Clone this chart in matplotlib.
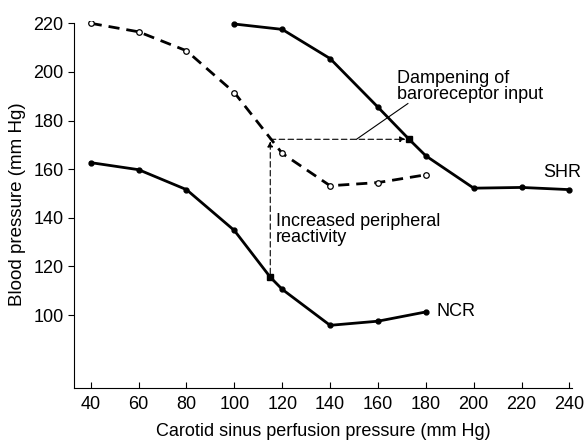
import matplotlib.pyplot as plt

plt.rcParams['font.family'] = ['Liberation Sans', 'DejaVu Sans']

# SHR, before (open circles, dashed)
shr0_x = [40, 60, 80, 100, 120, 140, 160, 180]
shr0_y = [220, 216.5, 208.7, 191.5, 166.5, 153.2, 154.5, 157.7]

# SHR (solid upper curve)
shr_x = [100, 120, 140, 160, 173, 180, 200, 220, 240]
shr_y = [219.7, 217.5, 205.5, 185.5, 172.3, 165.5, 152.2, 152.5, 151.6]

# NCR (solid lower curve)
ncr_x = [40, 60, 80, 100, 115, 120, 140, 160, 180]
ncr_y = [162.7, 159.8, 151.6, 134.8, 115.6, 110.6, 95.8, 97.5, 101.3]

x_ticks = [40, 60, 80, 100, 120, 140, 160, 180, 200, 220, 240]
y_ticks = [100, 120, 140, 160, 180, 200, 220]

fig = plt.figure(figsize=(5.85, 4.44), dpi=100)
ax = fig.add_axes([0.1265, 0.126, 0.851, 0.827])

ax.plot(shr0_x, shr0_y, color='black', lw=2, ls=(0, (4, 2.5)), marker='o',
        ms=4, mfc='white', mec='black', mew=0.9)
ax.plot(shr_x, shr_y, color='black', lw=2, marker='o', ms=3.5)
ax.plot(ncr_x, ncr_y, color='black', lw=2, marker='o', ms=3.5)
# square markers at the arrow points
ax.plot([173], [172.3], 's', color='black', ms=4.5)
ax.plot([115], [115.6], 's', color='black', ms=4.5)

# dashed arrows
ax.annotate('', xy=(115, 171.5), xytext=(115, 117),
            arrowprops=dict(arrowstyle='-|>', ls=(0, (5, 3)), lw=0.8,
                            color='black', mutation_scale=8, shrinkA=0, shrinkB=0))
ax.annotate('', xy=(171.5, 172.3), xytext=(115, 172.3),
            arrowprops=dict(arrowstyle='-|>', ls=(0, (5, 3)), lw=0.8,
                            color='black', mutation_scale=8, shrinkA=0, shrinkB=0))
ax.plot([151, 172.5], [172.3, 187], color='black', lw=0.8)

ax.text(168, 201, 'Dampening of\nbaroreceptor input', fontsize=13,
        va='top', ha='left', linespacing=0.95)
ax.text(117.3, 142, 'Increased peripheral\nreactivity', fontsize=13,
        va='top', ha='left', linespacing=0.95)
ax.text(184.5, 101.3, 'NCR', fontsize=13, va='center', ha='left')
ax.text(229, 158.5, 'SHR', fontsize=13, va='center', ha='left')

ax.set_xlim(33, 241)
ax.set_ylim(70, 221)
ax.set_xticks(x_ticks)
ax.set_yticks(y_ticks)
ax.tick_params(axis='x', direction='in', length=4, labelsize=13, pad=6)
ax.tick_params(axis='y', direction='out', length=4, labelsize=13)
ax.spines['top'].set_visible(False)
ax.spines['right'].set_visible(False)
ax.spines['left'].set_bounds(70, 220)
ax.set_xlabel('Carotid sinus perfusion pressure (mm Hg)', fontsize=13, labelpad=7)
ax.set_ylabel('Blood pressure (mm Hg)', fontsize=13.5, labelpad=5)

fig.savefig('out.png', dpi=100)
